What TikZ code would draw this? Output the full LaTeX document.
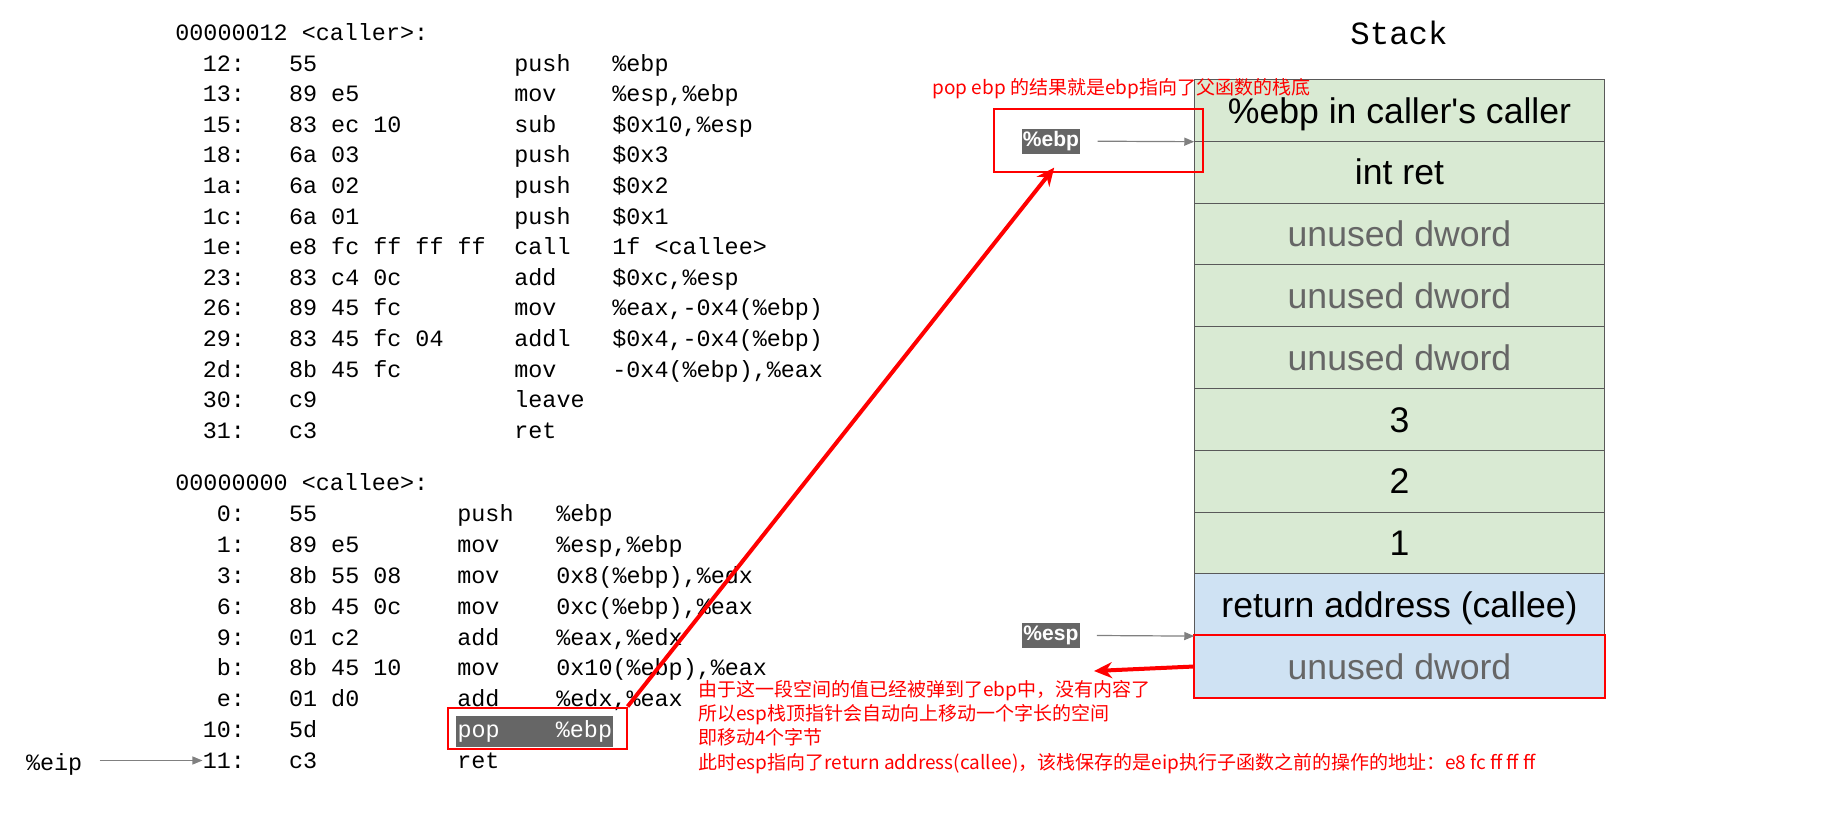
\documentclass[tikz,border=0pt]{standalone}
\usepackage{fontspec}
\setmainfont{Liberation Sans}
\setmonofont{Liberation Mono}
\newfontfamily\cjk{Noto Sans CJK SC}
\usetikzlibrary{positioning, arrows.meta, calc}
\definecolor{StackGreen}{HTML}{D9EAD3}
\definecolor{StackBlue}{HTML}{CFE2F3}
\definecolor{StackLine}{HTML}{595959}
\definecolor{DwordGray}{HTML}{666666}
\definecolor{RegGray}{HTML}{666666}
\definecolor{NoteRed}{HTML}{FF0000}

\begin{document}
\begin{tikzpicture}[
    x=0.5pt, y=-0.5pt,
    codetxt/.style={inner sep=0pt, font=\fontsize{11.7}{14}\ttfamily, anchor=base west},
    addr/.style={codetxt, anchor=base east},
    slot/.style={rectangle, draw=StackLine, line width=0.5pt, minimum width=204.75pt,
                 minimum height=30.9pt, inner sep=0pt, text height=12.8pt, text depth=0pt,
                 font=\fontsize{17.8}{20}\selectfont},
    reg/.style={fill=RegGray, text=white, font=\fontsize{10.5}{12}\selectfont\bfseries,
                inner xsep=0.6pt, inner ysep=1.4pt},
    redframe/.style={draw=NoteRed, line width=1pt, inner sep=0pt},
    note/.style={text=NoteRed, inner sep=0pt, font=\fontsize{9.5}{12.1}\cjk},
    ptr/.style={-{Triangle[length=5pt,width=4pt]}, draw=gray, line width=0.6pt},
    jump/.style={-{Stealth[length=9pt,width=8pt]}, draw=NoteRed, line width=2pt}
]
  \useasboundingbox (0,0) rectangle (1831,813);

  % caller listing
  \node[codetxt] (callerhd) at (175,40.7) {00000012 <caller>:};
  \foreach \a/\b/\m/\o [count=\i] in {12:/55/push/\%ebp, 13:/89 e5/mov/{\%esp,\%ebp},
      15:/83 ec 10/sub/{\$0x10,\%esp}, 18:/6a 03/push/\$0x3, 1a:/6a 02/push/\$0x2,
      1c:/6a 01/push/\$0x1, 1e:/e8 fc ff ff ff/call/1f <callee>, 23:/83 c4 0c/add/{\$0xc,\%esp},
      26:/89 45 fc/mov/{\%eax,-0x4(\%ebp)}, 29:/83 45 fc 04/addl/{\$0x4,-0x4(\%ebp)},
      2d:/8b 45 fc/mov/{-0x4(\%ebp),\%eax}, 30:/c9/leave/{}, 31:/c3/ret/{}} {
    \node[addr] (ca\i) at (245.4,40.5+30.6*\i) {\a};
    \node[codetxt] (cb\i) at (288.7,40.5+30.6*\i) {\b};
    \node[codetxt] (cm\i) at (514,40.5+30.6*\i) {\m};
    \node[codetxt] (co\i) at (612,40.5+30.6*\i) {\o};
  }

  % callee listing
  \node[codetxt] (calleehd) at (175,490.3) {00000000 <callee>:};
  \foreach \a/\b/\m/\o [count=\i] in {0:/55/push/\%ebp, 1:/89 e5/mov/{\%esp,\%ebp},
      3:/8b 55 08/mov/{0x8(\%ebp),\%edx}, 6:/8b 45 0c/mov/{0xc(\%ebp),\%eax},
      9:/01 c2/add/{\%eax,\%edx}, b:/8b 45 10/mov/{0x10(\%ebp),\%eax},
      e:/01 d0/add/{\%edx,\%eax}} {
    \node[addr] (ea\i) at (245.4,491+30.8*\i) {\a};
    \node[codetxt] (eb\i) at (288.7,491+30.8*\i) {\b};
    \node[codetxt] (em\i) at (457,491+30.8*\i) {\m};
    \node[codetxt] (eo\i) at (556,491+30.8*\i) {\o};
  }
  \node[addr] (ea8) at (245.4,737.4) {10:};
  \node[codetxt] (eb8) at (288.7,737.4) {5d};
  \node[codetxt, fill=RegGray, text=white, inner xsep=0.6pt, inner ysep=2.2pt,
        text height=8.6pt, text depth=2.6pt] (popline) at (456,737.4) {pop\ \ \ \ \%ebp};
  \node[redframe, minimum width=89.4pt, minimum height=20.5pt] (popframe) at (537.2,728) {};
  \node[addr] (ea9) at (245.4,768.2) {11:};
  \node[codetxt] (eb9) at (288.7,768.2) {c3};
  \node[codetxt] (em9) at (457,768.2) {ret};

  \node[codetxt] (eip) at (25.7,770.5) {\%eip};
  \draw[ptr] ($(eip.east |- ea9.west)+(17,0)$) -- (ea9.west);

  % stack
  \node[inner sep=0pt, font=\fontsize{16.2}{19}\ttfamily] (stacktitle) at (1399,32.7) {Stack};
  \foreach \t/\c/\f [count=\i] in {\%ebp in caller\textquotesingle s caller/black/StackGreen,
      int ret/black/StackGreen, unused dword/DwordGray/StackGreen,
      unused dword/DwordGray/StackGreen, unused dword/DwordGray/StackGreen,
      3/black/StackGreen, 2/black/StackGreen, 1/black/StackGreen,
      return address (callee)/black/StackBlue, unused dword/DwordGray/StackBlue} {
    \node[slot, fill=\f, text=\c] (r\i) at (1399.5,48.5+61.8*\i) {\t};
  }
  \draw[redframe] (r10.north west) rectangle (r10.south east);

  % registers
  \node[reg] (ebpreg) at (1050.9,141.2) {\%ebp};
  \node[redframe, minimum width=104.5pt, minimum height=31.5pt] (ebpframe) at (1098.2,140.1) {};
  \draw[ptr] ($(ebpreg.east)+(17,0)$) -- (r1.south west);
  \node[reg] (espreg) at (1050.9,635.5) {\%esp};
  \draw[ptr] ($(espreg.east)+(17,0)$) -- (r9.south west);

  % notes
  \node[note, anchor=base west] (popnote) at (932,95) {pop ebp 的结果就是ebp指向了父函数的栈底};
  \node[note, align=left, anchor=north west] (espnote) at (698,680)
    {由于这一段空间的值已经被弹到了ebp中，没有内容了\\
     所以esp栈顶指针会自动向上移动一个字长的空间\\
     即移动4个字节\\
     此时esp指向了return address(callee)，该栈保存的是eip执行子函数之前的操作的地址：e8 fc ff ff ff};

  \draw[jump] (popframe.north east) -- ($(ebpframe.south)+(-44,-5)$);
  \coordinate (espgap) at (1094,671);
  \draw[jump] (r10.west) -- (espgap);
\end{tikzpicture}
\end{document}
